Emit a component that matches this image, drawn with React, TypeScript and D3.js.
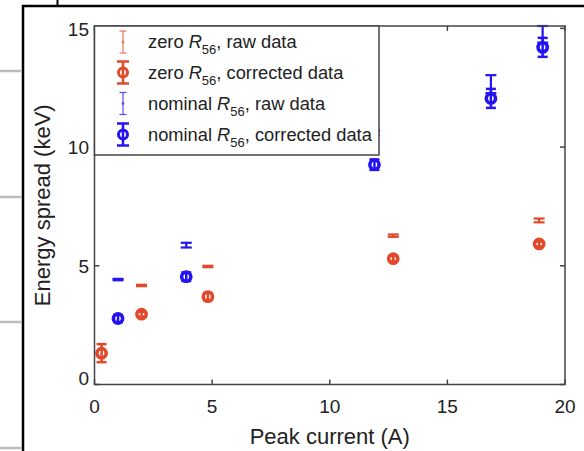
import * as d3 from 'd3';

// zero R56
const zeroRawX = [2.0, 4.82, 12.7, 18.9];
const zeroRawY = [4.17, 4.97, 6.27, 6.91];
const zeroRawErr = [0.03, 0.03, 0.05, 0.08];
const zeroCorrX = [0.3, 2.0, 4.82, 12.7, 18.9];
const zeroCorrY = [1.32, 2.96, 3.7, 5.3, 5.92];
const zeroCorrErr = [0.38, 0.1, 0.15, 0.1, 0.1];

// nominal R56
const nomRawX = [1.0, 3.9, 11.9, 16.85, 19.05];
const nomRawY = [4.42, 5.87, 10.6, 12.65, 14.75];
const nomRawErr = [0.03, 0.1, 0.1, 0.38, 0.35];
const nomCorrX = [1.0, 3.9, 11.9, 16.85, 19.05];
const nomCorrY = [2.78, 4.54, 9.26, 12.05, 14.2];
const nomCorrErr = [0.15, 0.18, 0.22, 0.4, 0.4];

const xTicks = [0, 5, 10, 15, 20];
const yTicks = [0, 5, 10, 15];
const legendLabels = [
  ['zero ', ', raw data'],
  ['zero ', ', corrected data'],
  ['nominal ', ', raw data'],
  ['nominal ', ', corrected data'],
];

const RED = '#e2492b';
const BLUE = '#2414f0';
const AX = '#444';
const FONT = '"Liberation Sans", Arial, Helvetica, sans-serif';

const x = d3.scaleLinear().domain([0, 20]).range([94.5, 565]);
const y = d3.scaleLinear().domain([0, 15.1]).range([384.5, 26]);

function ErrBar({ cx, cy, err, color, w, cap, marker }) {
  const px = x(cx);
  const top = y(cy + err);
  const bot = y(cy - err);
  return (
    <g stroke={color} strokeWidth={w} fill="none">
      <line x1={px} x2={px} y1={top} y2={bot} />
      <line x1={px - cap} x2={px + cap} y1={top} y2={top} />
      <line x1={px - cap} x2={px + cap} y1={bot} y2={bot} />
      {marker && <circle cx={px} cy={y(cy)} r={4.6} strokeWidth={3.6} />}
    </g>
  );
}

function LegendIcon({ ix, iy, color, raw }) {
  const h = 11;
  const cap = raw ? 3.5 : 6;
  return (
    <g stroke={color} strokeWidth={raw ? 1.2 : 2.5} opacity={raw ? 0.75 : 1} fill="none">
      <line x1={ix} x2={ix} y1={iy - h} y2={iy + h} />
      <line x1={ix - cap} x2={ix + cap} y1={iy - h} y2={iy - h} />
      <line x1={ix - cap} x2={ix + cap} y1={iy + h} y2={iy + h} />
      {raw ? <circle cx={ix} cy={iy} r={0.8} fill={color} /> : <circle cx={ix} cy={iy} r={4.5} strokeWidth={3} />}
    </g>
  );
}

export default function App() {
  const x0 = x(0), x1 = x(20), y0 = y(0), y1 = y(15.1);
  const legendRows = [42, 72.5, 103.5, 134.5];
  const legendColors = [RED, RED, BLUE, BLUE];

  return (
    <svg width={584} height={451} style={{ position: 'absolute', left: 0, top: 0, background: '#fff' }} fontFamily={FONT}>
      {/* page frame bits */}
      <line x1={23} x2={23} y1={5} y2={451} stroke="#000" strokeWidth={2.5} />
      <line x1={22} x2={584} y1={6} y2={6} stroke="#000" strokeWidth={2.5} />
      <line x1={57.5} x2={57.5} y1={0} y2={6} stroke="#000" strokeWidth={2} />
      {[71, 197, 322, 448].map((gy) => (
        <line key={gy} x1={0} x2={21.5} y1={gy} y2={gy} stroke="#bbb" strokeWidth={2.5} />
      ))}

      {/* data */}
      {zeroCorrX.map((v, i) => (
        <ErrBar key={'zc' + i} cx={v} cy={zeroCorrY[i]} err={zeroCorrErr[i]} color={RED} w={2.5} cap={5} marker />
      ))}
      {zeroRawX.map((v, i) => (
        <ErrBar key={'zr' + i} cx={v} cy={zeroRawY[i]} err={zeroRawErr[i]} color={RED} w={2.2} cap={5.5} />
      ))}
      {nomCorrX.map((v, i) => (
        <ErrBar key={'nc' + i} cx={v} cy={nomCorrY[i]} err={nomCorrErr[i]} color={BLUE} w={2.5} cap={5} marker />
      ))}
      {nomRawX.map((v, i) => (
        <ErrBar key={'nr' + i} cx={v} cy={nomRawY[i]} err={nomRawErr[i]} color={BLUE} w={2.2} cap={5.5} />
      ))}

      {/* axes box */}
      <rect x={x0} y={y1} width={x1 - x0} height={y0 - y1} fill="none" stroke={AX} strokeWidth={1.5} />
      {xTicks.map((t) => (
        <g key={'xt' + t} stroke={AX} strokeWidth={1.5}>
          <line x1={x(t)} x2={x(t)} y1={y0} y2={y0 - 5} />
          <line x1={x(t)} x2={x(t)} y1={y1} y2={y1 + 5} />
        </g>
      ))}
      {yTicks.map((t) => (
        <g key={'yt' + t} stroke={AX} strokeWidth={1.5}>
          <line x1={x0} x2={x0 + 5} y1={y(t)} y2={y(t)} />
          <line x1={x1} x2={x1 - 5} y1={y(t)} y2={y(t)} />
        </g>
      ))}
      {xTicks.map((t) => (
        <text key={'xl' + t} x={x(t)} y={413} textAnchor="middle" fontSize={19} fill="#222">{t}</text>
      ))}
      {yTicks.map((t) => (
        <text key={'yl' + t} x={89} y={y(t)} dy={t === 0 ? '0.05em' : '0.38em'} textAnchor="end" fontSize={19} fill="#222">{t}</text>
      ))}
      <text x={(x0 + x1) / 2} y={444} textAnchor="middle" fontSize={22} fill="#222">Peak current (A)</text>
      <text transform={`translate(50,${(y0 + y1) / 2}) rotate(-90)`} textAnchor="middle" fontSize={22} fill="#222">Energy spread (keV)</text>

      {/* legend */}
      <rect x={x0} y={y1} width={379 - x0} height={155 - y1} fill="#fff" stroke={AX} strokeWidth={1.5} />
      {legendLabels.map((lab, i) => (
        <g key={'lg' + i}>
          <LegendIcon ix={123} iy={legendRows[i]} color={legendColors[i]} raw={i % 2 === 0} />
          <text x={148} y={legendRows[i] + 6} fontSize={18.3} fill="#222">
            {lab[0]}
            <tspan fontStyle="italic">R</tspan>
            <tspan fontSize={13} dy={6}>56</tspan>
            <tspan dy={-6}>{lab[1]}</tspan>
          </text>
        </g>
      ))}
    </svg>
  );
}
